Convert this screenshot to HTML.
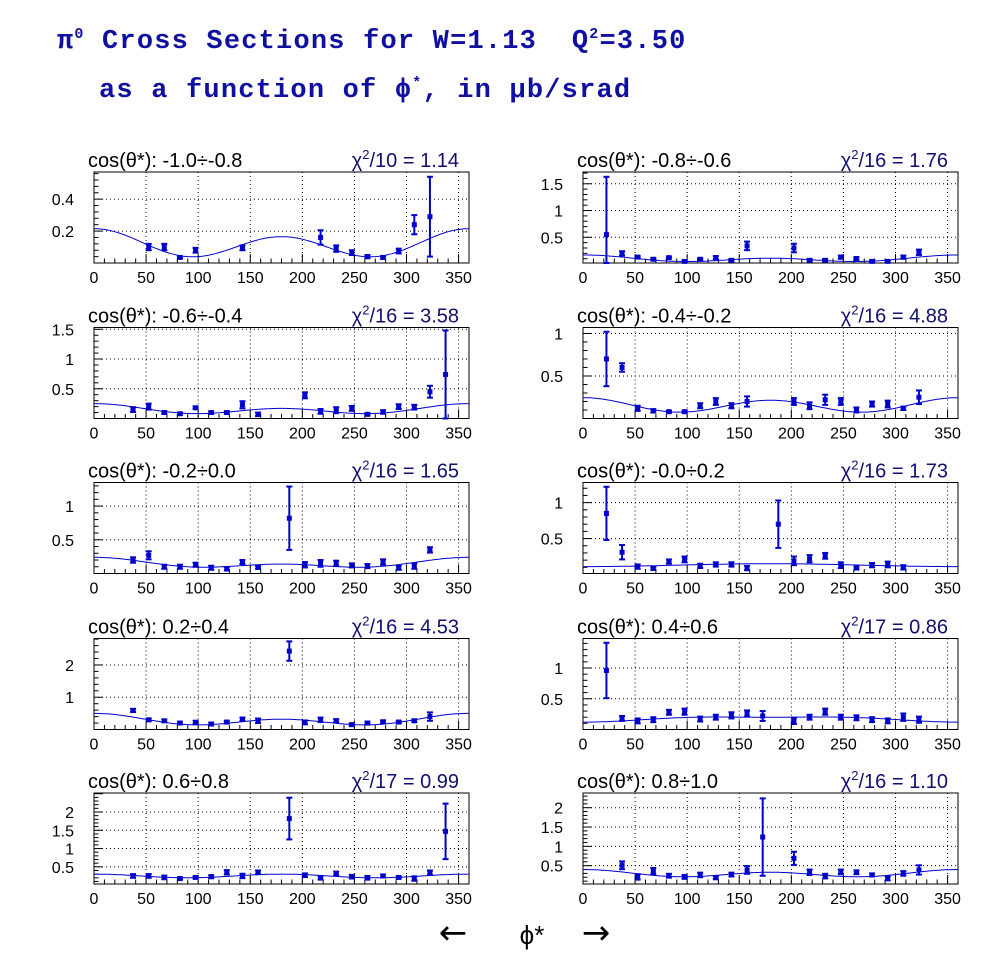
<!DOCTYPE html>
<html><head><meta charset="utf-8">
<style>
html,body{margin:0;padding:0;background:#fff;}
svg{display:block;}
.ttl{font-family:"Liberation Mono",monospace;font-weight:bold;fill:#1010a0;white-space:pre;}
.lab{font-family:"Liberation Sans",sans-serif;}
</style></head>
<body>
<svg id="chart" width="996" height="972" viewBox="0 0 996 972" xmlns="http://www.w3.org/2000/svg">
<rect width="996" height="972" fill="#fff"/>
<text class="ttl" x="57" y="48" font-size="27" letter-spacing="1.2">π<tspan dy="-10" font-size="15">0</tspan><tspan dy="10"> Cross Sections for W=1.13&#160; Q</tspan><tspan dy="-10" font-size="15">2</tspan><tspan dy="10">=3.50</tspan></text>
<text class="ttl" x="99" y="97" font-size="27" letter-spacing="1.2">as a function of ϕ<tspan dy="-10" font-size="15">*</tspan><tspan dy="10">, in μb/srad</tspan></text>
<text x="453" y="944" font-size="34" text-anchor="middle" font-family="DejaVu Sans, sans-serif">←</text>
<text class="lab" x="532" y="944" font-size="26" text-anchor="middle">ϕ*</text>
<text x="596" y="944" font-size="34" text-anchor="middle" font-family="DejaVu Sans, sans-serif">→</text>
<g id="panels"></g>
</svg>
<script>
const xTicks = [0,50,100,150,200,250,300,350];
const binLabels = ["-1.0÷-0.8","-0.8÷-0.6","-0.6÷-0.4","-0.4÷-0.2","-0.2÷0.0","-0.0÷0.2","0.2÷0.4","0.4÷0.6","0.6÷0.8","0.8÷1.0"];
const chiDof = [10,16,16,16,16,16,16,17,17,16];
const chiVal = ["1.14","1.76","3.58","4.88","1.65","1.73","4.53","0.86","0.99","1.10"];
const yMin = [0,0.02,0,0,0,0.014,0,0,0.03,0.026];
const yMax = [0.57,1.72,1.53,1.07,1.35,1.28,2.82,1.48,2.52,2.38];
const yTicks = [[0.2,0.4],[0.5,1,1.5],[0.5,1,1.5],[0.5,1],[0.5,1],[0.5,1],[1,2],[0.5,1],[0.5,1,1.5,2],[0.5,1,1.5,2]];
const fitA = [0.115,0.095,0.1475,0.1525,0.145,0.13,0.28,0.175,0.25,0.29];
const fitB = [0.025,0.03,0.04,0.015,0.05,-0.02,0.09,-0.04,0,0.035];
const fitC = [0.075,0.045,0.0625,0.0775,0.045,0,0.13,-0.015,0.05,0.075];

const p1Phi=[52.5,67.5,82.5,97.5,142.5,217.5,232.5,247.5,262.5,277.5,292.5,307.5,322.5];
const p1Val=[0.1,0.1,0.035,0.08,0.095,0.16,0.09,0.065,0.04,0.035,0.075,0.24,0.29];
const p1Err=[0.02,0.02,0.006,0.015,0.015,0.045,0.02,0.015,0.01,0.008,0.015,0.06,0.25];
const p2Phi=[22.5,37.5,52.5,67.5,82.5,97.5,112.5,127.5,142.5,157.5,202.5,217.5,232.5,247.5,262.5,277.5,292.5,307.5,322.5];
const p2Val=[0.55,0.2,0.13,0.09,0.12,0.05,0.09,0.12,0.07,0.34,0.3,0.07,0.07,0.13,0.1,0.05,0.05,0.13,0.22];
const p2Err=[1.08,0.04,0.02,0.02,0.02,0.02,0.02,0.03,0.02,0.08,0.08,0.02,0.02,0.03,0.03,0.02,0.02,0.03,0.05];
const p3Phi=[37.5,52.5,67.5,82.5,97.5,112.5,127.5,142.5,157.5,202.5,217.5,232.5,247.5,262.5,277.5,292.5,307.5,322.5,337.5];
const p3Val=[0.15,0.2,0.1,0.08,0.18,0.1,0.1,0.23,0.07,0.39,0.12,0.14,0.17,0.07,0.11,0.2,0.19,0.45,0.74];
const p3Err=[0.04,0.05,0.02,0.02,0.02,0.02,0.02,0.06,0.03,0.05,0.04,0.05,0.04,0.02,0.03,0.04,0.04,0.1,0.74];
const p4Phi=[22.5,37.5,52.5,67.5,82.5,97.5,112.5,127.5,142.5,157.5,202.5,217.5,232.5,247.5,262.5,277.5,292.5,307.5,322.5];
const p4Val=[0.7,0.6,0.12,0.09,0.08,0.08,0.15,0.2,0.15,0.2,0.2,0.15,0.22,0.2,0.1,0.17,0.17,0.12,0.25];
const p4Err=[0.32,0.05,0.03,0.02,0.01,0.01,0.03,0.04,0.03,0.06,0.04,0.04,0.06,0.04,0.03,0.03,0.04,0.02,0.08];
const p5Phi=[37.5,52.5,67.5,82.5,97.5,112.5,127.5,142.5,157.5,187.5,202.5,217.5,232.5,247.5,262.5,277.5,292.5,307.5,322.5];
const p5Val=[0.2,0.27,0.1,0.1,0.13,0.085,0.07,0.17,0.09,0.82,0.13,0.15,0.15,0.12,0.11,0.17,0.085,0.11,0.35];
const p5Err=[0.04,0.06,0.03,0.03,0.03,0.03,0.025,0.03,0.02,0.47,0.04,0.05,0.04,0.03,0.03,0.04,0.03,0.04,0.04];
const p6Phi=[22.5,37.5,52.5,67.5,82.5,97.5,112.5,127.5,142.5,157.5,187.5,202.5,217.5,232.5,247.5,262.5,277.5,292.5,307.5];
const p6Val=[0.85,0.31,0.11,0.085,0.18,0.21,0.12,0.14,0.14,0.09,0.7,0.19,0.22,0.26,0.13,0.09,0.13,0.14,0.1];
const p6Err=[0.37,0.1,0.03,0.02,0.03,0.04,0.03,0.03,0.03,0.03,0.33,0.06,0.05,0.04,0.04,0.02,0.03,0.04,0.03];
const p7Phi=[37.5,52.5,67.5,82.5,97.5,112.5,127.5,142.5,157.5,187.5,202.5,217.5,232.5,247.5,262.5,277.5,292.5,307.5,322.5];
const p7Val=[0.59,0.3,0.27,0.2,0.22,0.17,0.23,0.32,0.27,2.43,0.22,0.3,0.27,0.15,0.2,0.24,0.23,0.27,0.4];
const p7Err=[0.05,0.04,0.04,0.04,0.05,0.04,0.04,0.05,0.07,0.3,0.06,0.07,0.05,0.04,0.04,0.04,0.04,0.04,0.13];
const p8Phi=[22.5,37.5,52.5,67.5,82.5,97.5,112.5,127.5,142.5,157.5,172.5,202.5,217.5,232.5,247.5,262.5,277.5,292.5,307.5,322.5];
const p8Val=[0.96,0.18,0.14,0.16,0.28,0.29,0.17,0.2,0.23,0.26,0.22,0.14,0.2,0.29,0.2,0.19,0.16,0.14,0.2,0.16];
const p8Err=[0.45,0.04,0.04,0.04,0.04,0.05,0.04,0.04,0.05,0.05,0.08,0.05,0.04,0.05,0.04,0.04,0.04,0.04,0.06,0.05];
const p9Phi=[37.5,52.5,67.5,82.5,97.5,112.5,127.5,142.5,157.5,187.5,202.5,217.5,232.5,247.5,262.5,277.5,292.5,307.5,322.5,337.5];
const p9Val=[0.25,0.25,0.21,0.18,0.21,0.23,0.35,0.25,0.35,1.82,0.27,0.2,0.32,0.23,0.2,0.25,0.21,0.18,0.34,1.47];
const p9Err=[0.05,0.05,0.05,0.03,0.03,0.04,0.06,0.06,0.05,0.57,0.05,0.05,0.05,0.05,0.05,0.04,0.03,0.06,0.06,0.76];
const p10Phi=[37.5,52.5,67.5,82.5,97.5,112.5,127.5,142.5,157.5,172.5,202.5,217.5,232.5,247.5,262.5,277.5,292.5,307.5,322.5];
const p10Val=[0.51,0.21,0.36,0.24,0.21,0.26,0.19,0.27,0.39,1.24,0.69,0.33,0.23,0.34,0.33,0.26,0.17,0.3,0.39];
const p10Err=[0.1,0.07,0.08,0.05,0.05,0.06,0.04,0.05,0.1,1.0,0.17,0.07,0.06,0.06,0.05,0.04,0.05,0.06,0.12];

const allPhi=[p1Phi,p2Phi,p3Phi,p4Phi,p5Phi,p6Phi,p7Phi,p8Phi,p9Phi,p10Phi];
const allVal=[p1Val,p2Val,p3Val,p4Val,p5Val,p6Val,p7Val,p8Val,p9Val,p10Val];
const allErr=[p1Err,p2Err,p3Err,p4Err,p5Err,p6Err,p7Err,p8Err,p9Err,p10Err];

const NS="http://www.w3.org/2000/svg";
const root=document.getElementById('panels');
const colX=[94,583], rowY=[172,327.5,482.5,638.5,793], PW=375, PH=91;
const BLUE="#0000cc";
function mk(tag,attrs,parent){const e=document.createElementNS(NS,tag);for(const k in attrs)e.setAttribute(k,attrs[k]);parent.appendChild(e);return e;}

for(let i=0;i<10;i++){
  const X0=colX[i%2], Y0=rowY[Math.floor(i/2)];
  const g=mk('g',{},root);
  
  
  const sx=v=>X0+v/360*PW;
  const sy=v=>Y0+PH-(v-yMin[i])/(yMax[i]-yMin[i])*PH;
  xTicks.forEach(t=>{ if(t>0){const l=mk('line',{x1:sx(t),x2:sx(t),y1:Y0,y2:Y0+PH,stroke:'#000','stroke-width':1,'stroke-dasharray':'1,3'},g);
    
    }});
  yTicks[i].forEach(t=>{const l=mk('line',{x1:X0,x2:X0+PW,y1:sy(t),y2:sy(t),stroke:'#000','stroke-width':1,'stroke-dasharray':'1,3'},g);
    
    });
  const fr=mk('rect',{x:X0,y:Y0,width:PW,height:PH,fill:'none',stroke:'#000','stroke-width':1},g);
  
  
  for(let t=0;t<=360;t+=10){const maj=t%50===0;mk('line',{x1:sx(t),x2:sx(t),y1:Y0+PH,y2:Y0+PH-(maj?9:4.5),stroke:'#000','stroke-width':1},g);}
  xTicks.forEach(t=>{const tx=mk('text',{x:sx(t),y:Y0+PH+20,'font-size':16,'text-anchor':'middle',class:'lab'},g);tx.textContent=String(t);
    
    });
  const step=yTicks[i].length>1?yTicks[i][1]-yTicks[i][0]:yTicks[i][0];
  const minor=step/5;
  for(let v=Math.ceil(yMin[i]/minor-1e-6)*minor; v<=yMax[i]+1e-9; v+=minor){
    const maj=Math.abs(v/step-Math.round(v/step))<1e-4;
    mk('line',{x1:X0,x2:X0+(maj?9:4.5),y1:sy(v),y2:sy(v),stroke:'#000','stroke-width':1},g);}
  yTicks[i].forEach(t=>{const tx=mk('text',{x:X0-20,y:sy(t)+6,'font-size':16,'text-anchor':'end',class:'lab'},g);tx.textContent=String(t);
    
    });
  const bl=mk('text',{x:X0-6,y:Y0-5,'font-size':20,class:'lab'},g);bl.textContent='cos(θ*): '+binLabels[i];
  
  
  const cl=mk('text',{x:X0+PW-10,y:Y0-5,'font-size':20,'text-anchor':'end',class:'lab',fill:'#101070'},g);
  cl.innerHTML='χ<tspan dy="-8" font-size="13">2</tspan><tspan dy="8">/'+chiDof[i]+' = '+chiVal[i]+'</tspan>';
  
  
  let d='';
  for(let p=0;p<=360;p+=2){const r=p*Math.PI/180;const v=fitA[i]+fitB[i]*Math.cos(r)+fitC[i]*Math.cos(2*r);
    d+=(p?'L':'M')+sx(p).toFixed(1)+','+sy(v).toFixed(1);}
  const fc=mk('path',{d:d,fill:'none',stroke:BLUE,'stroke-width':1},g);
  
  
  allPhi[i].forEach((ph,k)=>{
    const v=allVal[i][k], e=allErr[i][k];
    const x=sx(ph), yt=Math.max(Y0,sy(v+e)), yb=Math.min(Y0+PH,sy(v-e));
    const pg=mk('g',{},g);
    
    
    mk('line',{x1:x,x2:x,y1:yt,y2:yb,stroke:BLUE,'stroke-width':2},pg);
    mk('line',{x1:x-3,x2:x+3,y1:yt,y2:yt,stroke:BLUE,'stroke-width':2},pg);
    mk('line',{x1:x-3,x2:x+3,y1:yb,y2:yb,stroke:BLUE,'stroke-width':2},pg);
    mk('rect',{x:x-2.5,y:sy(v)-2.5,width:5,height:5,fill:BLUE},pg);
  });
}
</script>
</body></html>
